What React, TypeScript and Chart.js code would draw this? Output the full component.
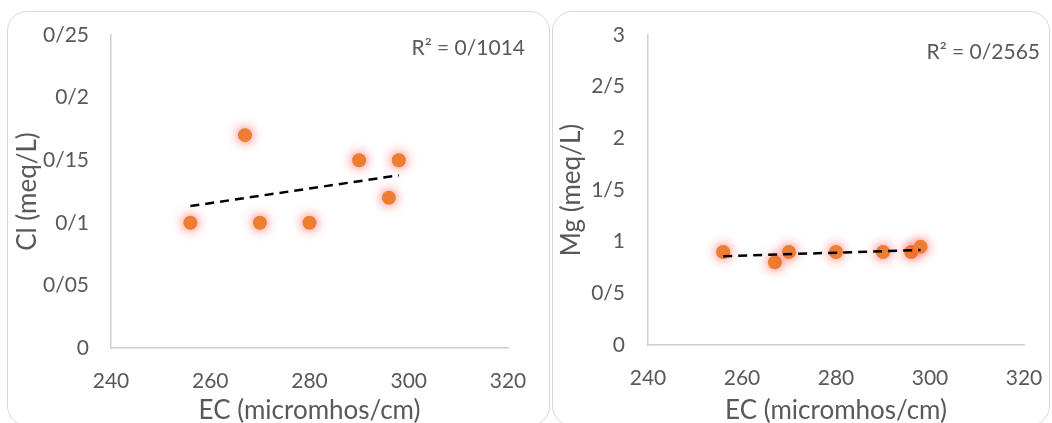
import React, { useEffect, useRef } from "react";
import { Chart, registerables } from "chart.js";

Chart.register(...registerables);

// ---- Data ----
const ecValues = [256, 267, 270, 280, 290, 296, 298];
const clValues = [0.1, 0.17, 0.1, 0.1, 0.15, 0.12, 0.15];
const mgValues = [0.9, 0.8, 0.9, 0.9, 0.9, 0.9, 0.95];

const xTickLabels = ["240", "260", "280", "300", "320"];
const clTickLabels = ["0", "0/05", "0/1", "0/15", "0/2", "0/25"];
const mgTickLabels = ["0", "0/5", "1", "1/5", "2", "2/5", "3"];

const xTitle = "EC (micromhos/cm)";
const clTitle = "Cl (meq/L)";
const mgTitle = "Mg (meq/L)";
const clR2Label = "R² = 0/1014";
const mgR2Label = "R² = 0/2565";

// ---- Styles ----
const FONT = "Lato, 'Open Sans', sans-serif";
const TEXT = "#595959";
const AXIS = "#d0d0d0";
const ORANGE = "#ED7D31";
const TICK_SIZE = 21;
const TITLE_SIZE = 26;

function trend(xs: number[], ys: number[]) {
  const n = xs.length;
  const mx = xs.reduce((a, b) => a + b, 0) / n;
  const my = ys.reduce((a, b) => a + b, 0) / n;
  let sxy = 0;
  let sxx = 0;
  for (let i = 0; i < n; i++) {
    sxy += (xs[i] - mx) * (ys[i] - my);
    sxx += (xs[i] - mx) * (xs[i] - mx);
  }
  const slope = sxy / sxx;
  const b = my - slope * mx;
  const x0 = Math.min(...xs);
  const x1 = Math.max(...xs);
  return [
    { x: x0, y: slope * x0 + b },
    { x: x1, y: slope * x1 + b },
  ];
}

const glowPlugin = {
  id: "glow",
  beforeDatasetDraw(chart: any, args: any) {
    const ds = chart.data.datasets[args.index];
    if (ds && ds.glow) {
      const ctx = chart.ctx;
      ctx.save();
      ctx.shadowColor = "rgba(255, 30, 30, 0.75)";
      ctx.shadowBlur = 12;
      ctx.shadowOffsetX = 0;
      ctx.shadowOffsetY = 0;
    }
  },
  afterDatasetDraw(chart: any, args: any) {
    const ds = chart.data.datasets[args.index];
    if (ds && ds.glow) chart.ctx.restore();
  },
};

const r2Plugin = {
  id: "r2",
  afterDraw(chart: any, _args: any, opts: any) {
    if (!opts || !opts.text) return;
    const ctx = chart.ctx;
    const a = chart.chartArea;
    ctx.save();
    ctx.font = `${TICK_SIZE}px ${FONT}`;
    ctx.fillStyle = TEXT;
    ctx.textAlign = "right";
    ctx.textBaseline = "middle";
    ctx.fillText(opts.text, a.right + opts.dx, a.top + opts.dy);
    ctx.restore();
  },
};

type PanelCfg = {
  ys: number[];
  yMax: number;
  yStep: number;
  yLabels: string[];
  yTitle: string;
  r2: string;
  yWidth: number;
  yTickPad: number;
  yTitlePad: number;
  xHeight: number;
  padRight: number;
  r2dx: number;
  r2dy: number;
};

function zeroPad(s: any) {
  s.paddingTop = 0;
  s.paddingBottom = 0;
  s.paddingLeft = 0;
  s.paddingRight = 0;
}

function makeConfig(p: PanelCfg): any {
  const tickFont = { family: FONT, size: TICK_SIZE };
  const titleFont = { family: FONT, size: TITLE_SIZE };
  return {
    type: "scatter",
    data: {
      datasets: [
        {
          type: "line",
          data: trend(ecValues, p.ys),
          borderColor: "#000000",
          borderWidth: 2.5,
          borderDash: [9, 6],
          pointRadius: 0,
          fill: false,
          tension: 0,
        },
        {
          type: "scatter",
          glow: true,
          data: ecValues.map((x, i) => ({ x, y: p.ys[i] })),
          backgroundColor: ORANGE,
          borderWidth: 0,
          pointRadius: 7,
          pointHoverRadius: 7,
        },
      ],
    },
    options: {
      animation: false,
      responsive: false,
      devicePixelRatio: 1,
      layout: { padding: { left: 0, top: 24, right: p.padRight, bottom: 0 } },
      plugins: {
        legend: { display: false },
        tooltip: { enabled: false },
        r2: { text: p.r2, dx: p.r2dx, dy: p.r2dy },
      },
      scales: {
        x: {
          type: "linear",
          min: 240,
          max: 320,
          ticks: {
            stepSize: 20,
            color: TEXT,
            font: tickFont,
            padding: 21,
            maxRotation: 0,
            callback: (_v: any, i: number) => xTickLabels[i],
          },
          grid: { display: false, drawTicks: false },
          border: { display: true, color: AXIS, width: 1.5 },
          title: {
            display: true,
            text: xTitle,
            color: TEXT,
            font: titleFont,
            padding: { top: 0, bottom: -3 },
          },
          afterFit: (s: any) => {
            s.height = p.xHeight;
            zeroPad(s);
          },
        },
        y: {
          type: "linear",
          min: 0,
          max: p.yMax,
          ticks: {
            stepSize: p.yStep,
            color: TEXT,
            font: tickFont,
            padding: p.yTickPad,
            callback: (_v: any, i: number) => p.yLabels[i],
          },
          grid: { display: false, drawTicks: false },
          border: { display: true, color: AXIS, width: 1.5 },
          title: {
            display: true,
            text: p.yTitle,
            color: TEXT,
            font: titleFont,
            padding: { top: p.yTitlePad, bottom: 0 },
          },
          afterFit: (s: any) => {
            s.width = p.yWidth;
            zeroPad(s);
          },
        },
      },
    },
    plugins: [glowPlugin, r2Plugin],
  };
}

function Panel(props: {
  left: number;
  top: number;
  width: number;
  canvasHeight: number;
  boxHeight: number;
  cfg: PanelCfg;
}) {
  const ref = useRef<HTMLCanvasElement | null>(null);
  useEffect(() => {
    if (!ref.current) return;
    const chart = new Chart(ref.current, makeConfig(props.cfg));
    return () => chart.destroy();
  }, []);
  return (
    <>
      <div
        style={{
          position: "absolute",
          left: props.left,
          top: props.top,
          width: props.width,
          height: props.boxHeight,
          border: "1.5px solid #d9d9d9",
          borderRadius: 20,
          boxSizing: "border-box",
          background: "#ffffff",
        }}
      />
      <canvas
        ref={ref}
        width={props.width}
        height={props.canvasHeight}
        style={{
          position: "absolute",
          left: props.left,
          top: props.top,
          width: props.width,
          height: props.canvasHeight,
        }}
      />
    </>
  );
}

export default function App() {
  return (
    <div
      style={{
        position: "fixed",
        left: 0,
        top: 0,
        width: 1052,
        height: 423,
        overflow: "hidden",
        background: "#ffffff",
      }}
    >
      <Panel
        left={7}
        top={11}
        width={543}
        canvasHeight={412}
        boxHeight={415}
        cfg={{
          ys: clValues,
          yMax: 0.25,
          yStep: 0.05,
          yLabels: clTickLabels,
          yTitle: clTitle,
          r2: clR2Label,
          yWidth: 104,
          yTickPad: 22,
          yTitlePad: 5,
          xHeight: 75,
          padRight: 42,
          r2dx: 17,
          r2dy: 13,
        }}
      />
      <Panel
        left={552}
        top={11}
        width={498}
        canvasHeight={412}
        boxHeight={415}
        cfg={{
          ys: mgValues,
          yMax: 3,
          yStep: 0.5,
          yLabels: mgTickLabels,
          yTitle: mgTitle,
          r2: mgR2Label,
          yWidth: 96,
          yTickPad: 23,
          yTitlePad: 4,
          xHeight: 78,
          padRight: 26,
          r2dx: 16,
          r2dy: 17,
        }}
      />
    </div>
  );
}
